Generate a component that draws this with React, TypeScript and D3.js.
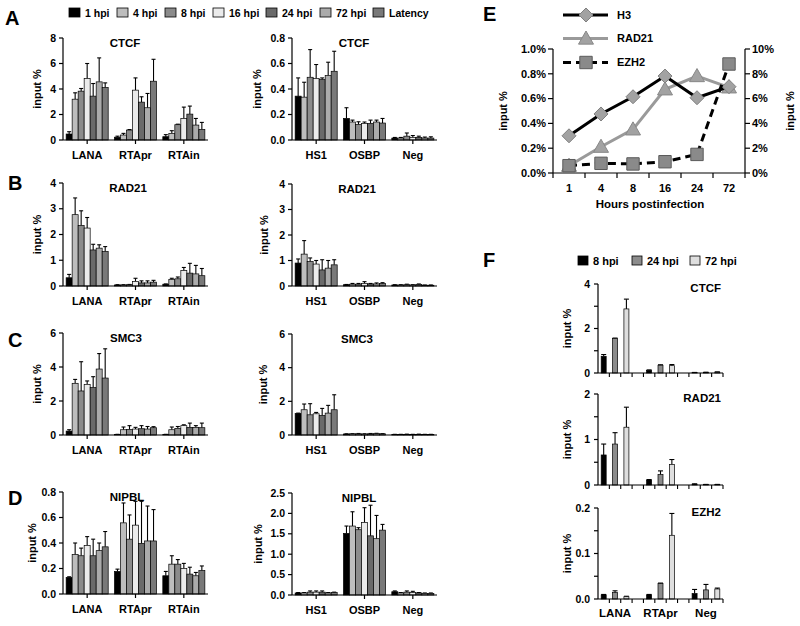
import React from 'react';
import * as d3 from 'd3';

const FONT = '"Liberation Sans", Arial, Helvetica, sans-serif';

// ---------- shared categories ----------
const timepoints = ['1 hpi', '4 hpi', '8 hpi', '16 hpi', '24 hpi', '72 hpi', 'Latency'];
const timepointFills = ['#000000', '#bdbdbd', '#8b8b8b', '#ebebeb', '#6a6a6a', '#ababab', '#797979'];
const viralSites = ['LANA', 'RTApr', 'RTAin'];
const hostSites = ['HS1', 'OSBP', 'Neg'];

// ---------- A: CTCF ----------
const ctcfViralMean = [
  [0.47, 3.2, 3.83, 4.82, 3.44, 4.56, 4.12],
  [0.22, 0.39, 0.78, 3.91, 2.97, 2.53, 4.61],
  [0.26, 0.52, 1.2, 1.69, 2.03, 1.17, 0.83],
];
const ctcfViralErr = [
  [0.18, 0.5, 0.21, 1.18, 0.99, 1.88, 0.36],
  [0.08, 0.13, 0.04, 0.96, 0.42, 1.12, 1.72],
  [0.16, 0.21, 0.04, 0.89, 0.63, 0.52, 0.55],
];
const ctcfHostMean = [
  [0.344, 0.336, 0.492, 0.482, 0.474, 0.505, 0.539],
  [0.169, 0.141, 0.122, 0.13, 0.13, 0.141, 0.133],
  [0.015, 0.015, 0.03, 0.02, 0.02, 0.015, 0.015],
];
const ctcfHostErr = [
  [0.143, 0.117, 0.217, 0.11, 0.013, 0.105, 0.157],
  [0.084, 0.015, 0.021, 0.011, 0.026, 0.015, 0.036],
  [0.005, 0.005, 0.025, 0.015, 0.01, 0.008, 0.01],
];

// ---------- B: RAD21 ----------
const rad21ViralMean = [
  [0.32, 2.77, 2.35, 2.25, 1.4, 1.47, 1.34],
  [0.04, 0.04, 0.05, 0.18, 0.12, 0.12, 0.15],
  [0.07, 0.25, 0.28, 0.6, 0.5, 0.47, 0.4],
];
const rad21ViralErr = [
  [0.13, 0.65, 0.57, 0.41, 0.22, 0.13, 0.19],
  [0.01, 0.01, 0.01, 0.12, 0.08, 0.08, 0.07],
  [0.01, 0.05, 0.07, 0.12, 0.38, 0.33, 0.28],
];
const rad21HostMean = [
  [0.9, 1.25, 0.96, 0.86, 0.63, 0.7, 0.83],
  [0.05, 0.07, 0.07, 0.1, 0.08, 0.08, 0.1],
  [0.04, 0.04, 0.05, 0.04, 0.06, 0.03, 0.03],
];
const rad21HostErr = [
  [0.16, 0.53, 0.14, 0.14, 0.4, 0.3, 0.2],
  [0.01, 0.03, 0.03, 0.07, 0.02, 0.04, 0.03],
  [0.01, 0.01, 0.02, 0.01, 0.02, 0.01, 0.01],
];

// ---------- C: SMC3 ----------
const smc3ViralMean = [
  [0.23, 3.04, 2.59, 2.98, 2.79, 3.88, 3.35],
  [0.03, 0.31, 0.33, 0.35, 0.37, 0.35, 0.43],
  [0.03, 0.31, 0.39, 0.55, 0.45, 0.45, 0.43],
];
const smc3ViralErr = [
  [0.08, 0.23, 1.72, 0.2, 0.64, 0.91, 1.72],
  [0.01, 0.16, 0.22, 0.1, 0.18, 0.15, 0.06],
  [0.01, 0.16, 0.11, 0.05, 0.25, 0.1, 0.27],
];
const smc3HostMean = [
  [1.28, 1.5, 1.2, 1.26, 1.16, 1.3, 1.5],
  [0.06, 0.07, 0.07, 0.06, 0.07, 0.08, 0.07],
  [0.03, 0.03, 0.04, 0.03, 0.04, 0.03, 0.03],
];
const smc3HostErr = [
  [0.02, 0.34, 0.66, 0.08, 0.42, 0.46, 0.89],
  [0.01, 0.01, 0.02, 0.01, 0.02, 0.02, 0.01],
  [0.01, 0.01, 0.01, 0.01, 0.01, 0.01, 0.01],
];

// ---------- D: NIPBL ----------
const nipblViralMean = [
  [0.13, 0.31, 0.3, 0.38, 0.3, 0.34, 0.37],
  [0.177, 0.558, 0.43, 0.54, 0.397, 0.416, 0.416],
  [0.143, 0.234, 0.234, 0.2, 0.156, 0.143, 0.184],
];
const nipblViralErr = [
  [0.005, 0.09, 0.06, 0.07, 0.13, 0.06, 0.12],
  [0.018, 0.156, 0.19, 0.187, 0.33, 0.274, 0.246],
  [0.034, 0.066, 0.036, 0.04, 0.054, 0.026, 0.036],
];
const nipblHostMean = [
  [0.05, 0.05, 0.07, 0.07, 0.07, 0.05, 0.06],
  [1.51, 1.69, 1.6, 1.78, 1.45, 1.38, 1.59],
  [0.08, 0.05, 0.07, 0.06, 0.05, 0.04, 0.04],
];
const nipblHostErr = [
  [0.01, 0.01, 0.03, 0.03, 0.03, 0.01, 0.01],
  [0.18, 0.35, 0.05, 0.36, 0.75, 0.57, 0.14],
  [0.02, 0.01, 0.03, 0.03, 0.01, 0.01, 0.01],
];

// ---------- E: line chart ----------
const hoursPI = ['1', '4', '8', '16', '24', '72'];
const h3Input = [0.3, 0.476, 0.615, 0.782, 0.607, 0.696];
const rad21Input = [0.059, 0.212, 0.352, 0.675, 0.782, 0.691];
const ezh2Input = [0.59, 0.78, 0.73, 0.91, 1.5, 8.79];

// ---------- F: later timepoints ----------
const fTimepoints = ['8 hpi', '24 hpi', '72 hpi'];
const fFills = ['#000000', '#8c8c8c', '#dedede'];
const fSites = ['LANA', 'RTApr', 'Neg'];
const fCtcfMean = [[0.75, 1.55, 2.88], [0.12, 0.35, 0.33], [0.02, 0.03, 0.04]];
const fCtcfErr = [[0.08, 0.02, 0.44], [0.02, 0.02, 0.05], [0.005, 0.005, 0.01]];
const fRad21Mean = [[0.66, 0.9, 1.27], [0.11, 0.23, 0.45], [0.02, 0.01, 0.01]];
const fRad21Err = [[0.24, 0.25, 0.44], [0.01, 0.08, 0.11], [0.005, 0.003, 0.003]];
const fEzh2Mean = [[0.009, 0.014, 0.005], [0.009, 0.034, 0.14], [0.012, 0.02, 0.022]];
const fEzh2Err = [[0.001, 0.004, 0.001], [0.001, 0.001, 0.048], [0.009, 0.012, 0.002]];

type BarPanelProps = {
  x0: number; x1: number; yTop: number; yBot: number; yMax: number; step: number;
  fmt: (v: number) => string; groups: string[]; means: number[][]; errs: number[][];
  title: string; titleX: number; ylabX: number;
};

function BarPanel(p: BarPanelProps) {
  const xg = d3.scaleBand<string>().domain(p.groups).range([p.x0, p.x1]).padding(0);
  const bw = xg.bandwidth();
  const xi = d3.scaleBand<number>().domain(d3.range(timepoints.length)).range([bw * 0.065, bw * 0.935]).padding(0);
  const y = d3.scaleLinear().domain([0, p.yMax]).range([p.yBot, p.yTop]);
  const ticks = d3.range(0, p.yMax + p.step / 2, p.step);
  const w = xi.bandwidth();
  return (
    <g>
      {p.groups.map((g, gi) => (
        <g key={g}>
          {p.means[gi].map((v, i) => {
            const x = (xg(g) as number) + (xi(i) as number);
            const cx = x + w / 2;
            const top = y(v + p.errs[gi][i]);
            return (
              <g key={i}>
                <line x1={cx} x2={cx} y1={y(v)} y2={top} stroke="#000" strokeWidth={1.1} />
                <line x1={cx - 2} x2={cx + 2} y1={top} y2={top} stroke="#000" strokeWidth={1.1} />
                <rect x={x} y={y(v)} width={w} height={p.yBot - y(v)} fill={timepointFills[i]} stroke="#000" strokeWidth={0.7} />
              </g>
            );
          })}
        </g>
      ))}
      <line x1={p.x0} x2={p.x0} y1={p.yTop} y2={p.yBot} stroke="#000" strokeWidth={1.2} />
      <line x1={p.x0} x2={p.x1} y1={p.yBot} y2={p.yBot} stroke="#000" strokeWidth={1.2} />
      {ticks.map((t) => (
        <g key={t}>
          <line x1={p.x0 - 4} x2={p.x0} y1={y(t)} y2={y(t)} stroke="#000" strokeWidth={1.2} />
          <text x={p.x0 - 7} y={y(t)} dy="0.35em" textAnchor="end" fontSize={10.5} fontWeight="bold">{p.fmt(t)}</text>
        </g>
      ))}
      {p.groups.map((g) => {
        const c = (xg(g) as number) + bw / 2;
        return (
          <g key={g}>
            <line x1={c} x2={c} y1={p.yBot} y2={p.yBot + 4} stroke="#000" strokeWidth={1.2} />
            <text x={c} y={p.yBot + 19} textAnchor="middle" fontSize={11} fontWeight="bold">{g}</text>
          </g>
        );
      })}
      <text x={p.titleX} y={p.yTop + 9} textAnchor="middle" fontSize={11.5} fontWeight="bold">{p.title}</text>
      <text transform={`translate(${p.ylabX},${(p.yTop + p.yBot) / 2}) rotate(-90)`} textAnchor="middle" dy="0.35em" fontSize={11} fontWeight="bold">input %</text>
    </g>
  );
}

type FPanelProps = {
  yTop: number; yBot: number; yMax: number; step: number; minor: number;
  fmt: (v: number) => string; means: number[][]; errs: number[][]; title: string; showLabels: boolean;
};

function FPanel(p: FPanelProps) {
  const x0 = 598, x1 = 723;
  const slots = d3.range(11);
  const xs = d3.scaleBand<number>().domain(slots).range([x0, x1]).padding(0);
  const step = xs.step();
  const w = 5;
  const y = d3.scaleLinear().domain([0, p.yMax]).range([p.yBot, p.yTop]);
  const ticks = d3.range(0, p.yMax + p.step / 2, p.step);
  const minors = d3.range(p.minor, p.yMax, p.step);
  return (
    <g>
      {fSites.map((s, gi) => (
        <g key={s}>
          {p.means[gi].map((v, i) => {
            const slot = gi * 4 + i;
            const cx = (xs(slot) as number) + step / 2;
            const top = y(v + p.errs[gi][i]);
            return (
              <g key={i}>
                <line x1={cx} x2={cx} y1={y(v)} y2={top} stroke="#000" strokeWidth={1.1} />
                <line x1={cx - 2.5} x2={cx + 2.5} y1={top} y2={top} stroke="#000" strokeWidth={1.1} />
                <rect x={cx - w / 2} y={y(v)} width={w} height={p.yBot - y(v)} fill={fFills[i]} stroke="#000" strokeWidth={0.7} />
              </g>
            );
          })}
        </g>
      ))}
      <line x1={x0} x2={x0} y1={p.yTop} y2={p.yBot} stroke="#000" strokeWidth={1.2} />
      <line x1={x0} x2={x1} y1={p.yBot} y2={p.yBot} stroke="#000" strokeWidth={1.2} />
      {slots.map((s) => {
        const xx = (xs(s) as number) + step;
        return <line key={s} x1={xx} x2={xx} y1={p.yBot} y2={p.yBot + 4} stroke="#000" strokeWidth={1.1} />;
      })}
      {ticks.map((t) => (
        <g key={t}>
          <line x1={x0 - 4} x2={x0} y1={y(t)} y2={y(t)} stroke="#000" strokeWidth={1.2} />
          <text x={x0 - 8} y={y(t)} dy="0.35em" textAnchor="end" fontSize={10.5} fontWeight="bold">{p.fmt(t)}</text>
        </g>
      ))}
      {minors.map((t) => (
        <line key={t} x1={x0 - 4} x2={x0} y1={y(t)} y2={y(t)} stroke="#000" strokeWidth={1.2} />
      ))}
      <text x={721} y={p.yTop + 8} textAnchor="end" fontSize={11.5} fontWeight="bold">{p.title}</text>
      <text transform={`translate(${567},${(p.yTop + p.yBot) / 2}) rotate(-90)`} textAnchor="middle" dy="0.35em" fontSize={11} fontWeight="bold">input %</text>
      {p.showLabels && fSites.map((s, gi) => {
        const c = (xs(gi * 4 + 1) as number) + step / 2;
        return <text key={s} x={c} y={p.yBot + 18} textAnchor="middle" fontSize={11.5} fontWeight="bold">{s}</text>;
      })}
    </g>
  );
}

function diamond(cx: number, cy: number, r: number) {
  return `M${cx},${cy - r}L${cx + r},${cy}L${cx},${cy + r}L${cx - r},${cy}Z`;
}
function triangle(cx: number, cy: number, r: number) {
  return `M${cx},${cy - r}L${cx + r},${cy + r * 0.75}L${cx - r},${cy + r * 0.75}Z`;
}
function square(cx: number, cy: number, r: number) {
  return `M${cx - r},${cy - r}h${2 * r}v${2 * r}h${-2 * r}Z`;
}

function PanelE() {
  const x = d3.scalePoint<string>().domain(hoursPI).range([553, 745]).padding(0.5);
  const yL = d3.scaleLinear().domain([0, 1]).range([173, 49]);
  const yR = d3.scaleLinear().domain([0, 10]).range([173, 49]);
  const xStep = x.step();
  const lineL = d3.line<number>().x((_, i) => x(hoursPI[i]) as number).y((d) => yL(d));
  const lineR = d3.line<number>().x((_, i) => x(hoursPI[i]) as number).y((d) => yR(d));
  const lt = d3.range(0, 1.01, 0.2);
  const rt = d3.range(0, 10.1, 2);
  const legend = [
    { name: 'H3', y: 15, stroke: '#000', dash: undefined as string | undefined, mark: 'd' },
    { name: 'RAD21', y: 38.5, stroke: '#9a9a9a', dash: undefined, mark: 't' },
    { name: 'EZH2', y: 62.5, stroke: '#000', dash: '8,5', mark: 's' },
  ];
  const markPath = (m: string, cx: number, cy: number) =>
    m === 'd' ? diamond(cx, cy, 7) : m === 't' ? triangle(cx, cy, 7.5) : square(cx, cy, 6.2);
  const markFill = (m: string) => (m === 's' ? '#8a8a8a' : '#a2a2a2');
  const markStroke = (m: string) => (m === 's' ? '#5a5a5a' : m === 't' ? '#888' : '#808080');
  return (
    <g>
      {/* axes */}
      <line x1={553} x2={553} y1={49} y2={173} stroke="#000" strokeWidth={1.2} />
      <line x1={745} x2={745} y1={49} y2={173} stroke="#000" strokeWidth={1.2} />
      <line x1={553} x2={745} y1={173} y2={173} stroke="#000" strokeWidth={1.2} />
      {d3.range(hoursPI.length + 1).map((i) => (
        <line key={i} x1={553 + i * xStep} x2={553 + i * xStep} y1={173} y2={178} stroke="#000" strokeWidth={1.2} />
      ))}
      {lt.map((t) => (
        <g key={t}>
          <line x1={548} x2={553} y1={yL(t)} y2={yL(t)} stroke="#000" strokeWidth={1.2} />
          <text x={546} y={yL(t)} dy="0.35em" textAnchor="end" fontSize={11} fontWeight="bold">{`${t.toFixed(1)}%`}</text>
        </g>
      ))}
      {rt.map((t) => (
        <g key={t}>
          <line x1={745} x2={750} y1={yR(t)} y2={yR(t)} stroke="#000" strokeWidth={1.2} />
          <text x={752} y={yR(t)} dy="0.35em" textAnchor="start" fontSize={11} fontWeight="bold">{`${Math.round(t)}%`}</text>
        </g>
      ))}
      {hoursPI.map((h) => (
        <text key={h} x={x(h) as number} y={192} textAnchor="middle" fontSize={11} fontWeight="bold">{h}</text>
      ))}
      <text x={650} y={208} textAnchor="middle" fontSize={11.5} fontWeight="bold">Hours postinfection</text>
      <text transform={`translate(503,111) rotate(-90)`} textAnchor="middle" dy="0.35em" fontSize={11} fontWeight="bold">input %</text>
      <text transform={`translate(790,111) rotate(-90)`} textAnchor="middle" dy="0.35em" fontSize={11} fontWeight="bold">input %</text>

      {/* series */}
      <path d={lineL(rad21Input) as string} fill="none" stroke="#9a9a9a" strokeWidth={3} />
      {rad21Input.map((v, i) => (
        <path key={'r' + i} d={triangle(x(hoursPI[i]) as number, yL(v), 7.5)} fill="#a2a2a2" stroke="#888" strokeWidth={1} />
      ))}
      <path d={lineL(h3Input) as string} fill="none" stroke="#000" strokeWidth={3} />
      {h3Input.map((v, i) => (
        <path key={'h' + i} d={diamond(x(hoursPI[i]) as number, yL(v), 7)} fill="#a2a2a2" stroke="#808080" strokeWidth={1} />
      ))}
      <path d={lineR(ezh2Input) as string} fill="none" stroke="#000" strokeWidth={3} strokeDasharray="8,5" />
      {ezh2Input.map((v, i) => (
        <path key={'e' + i} d={square(x(hoursPI[i]) as number, yR(v), 6.2)} fill="#8a8a8a" stroke="#5a5a5a" strokeWidth={1} />
      ))}

      {/* legend */}
      {legend.map((l) => (
        <g key={l.name}>
          <line x1={563} x2={608} y1={l.y} y2={l.y} stroke={l.stroke} strokeWidth={3} strokeDasharray={l.dash} />
          <path d={markPath(l.mark, 586, l.y)} fill={markFill(l.mark)} stroke={markStroke(l.mark)} strokeWidth={1} />
          <text x={617} y={l.y} dy="0.35em" fontSize={11} fontWeight="bold">{l.name}</text>
        </g>
      ))}
    </g>
  );
}

const legendBoxX = [69, 117, 165, 213, 266, 320, 373];
const fLegendBoxX = [578, 632, 690];

export default function App() {
  const fmt0 = (v: number) => d3.format('d')(v);
  const fmt1 = (v: number) => d3.format('.1f')(v);
  const left = { x0: 63, x1: 208 };
  const right = { x0: 292, x1: 437 };
  return (
    <svg width={800} height={626} style={{ position: 'absolute', left: 0, top: 0, background: '#fff' }} fontFamily={FONT}>
      <rect width={800} height={626} fill="#fff" />
      {/* top legend */}
      {timepoints.map((t, i) => (
        <g key={t}>
          <rect x={legendBoxX[i]} y={8} width={11} height={9} fill={timepointFills[i]} stroke="#000" strokeWidth={0.8} />
          <text x={legendBoxX[i] + 16} y={16.5} fontSize={10.5} fontWeight="bold">{t}</text>
        </g>
      ))}
      {/* panel letters */}
      <text x={5} y={25} fontSize={20} fontWeight="bold">A</text>
      <text x={8} y={190} fontSize={20} fontWeight="bold">B</text>
      <text x={8} y={347} fontSize={20} fontWeight="bold">C</text>
      <text x={8} y={505} fontSize={20} fontWeight="bold">D</text>
      <text x={483} y={21} fontSize={20} fontWeight="bold">E</text>
      <text x={483} y={267} fontSize={20} fontWeight="bold">F</text>

      <BarPanel {...left} yTop={38} yBot={140} yMax={8} step={2} fmt={fmt0} groups={viralSites} means={ctcfViralMean} errs={ctcfViralErr} title="CTCF" titleX={125} ylabX={37} />
      <BarPanel {...right} yTop={38} yBot={140} yMax={0.8} step={0.2} fmt={fmt1} groups={hostSites} means={ctcfHostMean} errs={ctcfHostErr} title="CTCF" titleX={354} ylabX={257} />

      <BarPanel {...left} yTop={183} yBot={286} yMax={4} step={1} fmt={fmt0} groups={viralSites} means={rad21ViralMean} errs={rad21ViralErr} title="RAD21" titleX={128} ylabX={37} />
      <BarPanel {...right} yTop={184} yBot={286} yMax={4} step={1} fmt={fmt0} groups={hostSites} means={rad21HostMean} errs={rad21HostErr} title="RAD21" titleX={357} ylabX={264} />

      <BarPanel {...left} yTop={333} yBot={435} yMax={6} step={2} fmt={fmt0} groups={viralSites} means={smc3ViralMean} errs={smc3ViralErr} title="SMC3" titleX={126} ylabX={37} />
      <BarPanel {...right} yTop={334} yBot={435} yMax={6} step={2} fmt={fmt0} groups={hostSites} means={smc3HostMean} errs={smc3HostErr} title="SMC3" titleX={357} ylabX={263} />

      <BarPanel {...left} yTop={492} yBot={594} yMax={0.8} step={0.2} fmt={fmt1} groups={viralSites} means={nipblViralMean} errs={nipblViralErr} title="NIPBL" titleX={127} ylabX={32} />
      <BarPanel {...right} yTop={493} yBot={595} yMax={2.5} step={0.5} fmt={fmt1} groups={hostSites} means={nipblHostMean} errs={nipblHostErr} title="NIPBL" titleX={359} ylabX={258} />

      <PanelE />

      {/* F legend */}
      {fTimepoints.map((t, i) => (
        <g key={t}>
          <rect x={fLegendBoxX[i]} y={256} width={10} height={9} fill={fFills[i]} stroke="#000" strokeWidth={0.8} />
          <text x={fLegendBoxX[i] + 15} y={264.5} fontSize={11} fontWeight="bold">{t}</text>
        </g>
      ))}
      <FPanel yTop={284} yBot={373} yMax={4} step={2} minor={1} fmt={fmt0} means={fCtcfMean} errs={fCtcfErr} title="CTCF" showLabels={false} />
      <FPanel yTop={394} yBot={485} yMax={2} step={1} minor={0.5} fmt={fmt0} means={fRad21Mean} errs={fRad21Err} title="RAD21" showLabels={false} />
      <FPanel yTop={508} yBot={599} yMax={0.2} step={0.1} minor={0.05} fmt={fmt1} means={fEzh2Mean} errs={fEzh2Err} title="EZH2" showLabels={true} />
    </svg>
  );
}
